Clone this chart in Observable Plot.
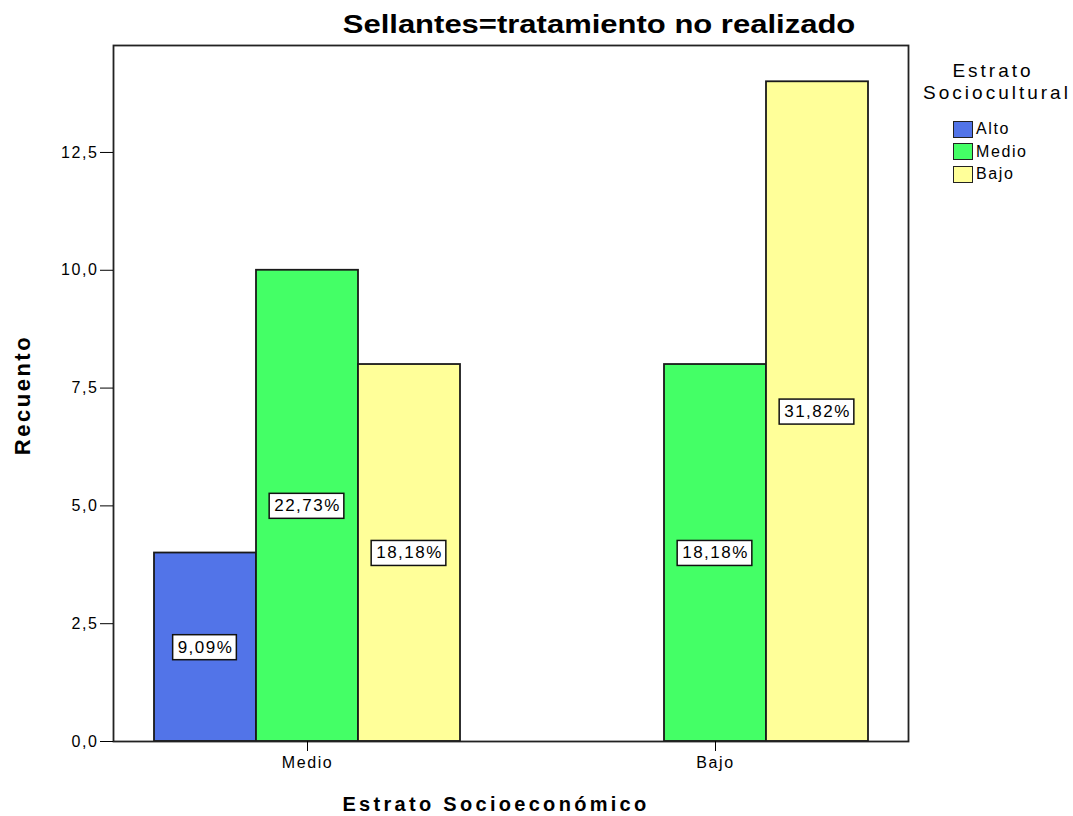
<!DOCTYPE html>
<html>
<head>
<meta charset="utf-8">
<script src="https://cdn.jsdelivr.net/npm/d3@7"></script>
<script src="https://cdn.jsdelivr.net/npm/@observablehq/plot@0.6"></script>
<style>
  html, body { margin: 0; padding: 0; background: white; }
  #wrap { position: relative; width: 1073px; height: 816px; font-family: "Liberation Sans", Arial, sans-serif; overflow: hidden; }
  .abs { position: absolute; color: #000; white-space: nowrap; }
  #title { left: 599px; top: 24px; transform: translate(-50%, -50%) scaleX(1.24); font-weight: bold; font-size: 25px; }
  #ylab { left: 23px; top: 395px; transform: translate(-50%, -50%) rotate(-90deg); font-weight: bold; font-size: 22px; letter-spacing: 2.5px; }
  #xlab { left: 496px; top: 804px; transform: translate(-50%, -50%); font-weight: bold; font-size: 20px; letter-spacing: 3.3px; }
  .legtitle { font-size: 19px; letter-spacing: 3px; transform: translate(-50%, -50%); }
  .legrow { left: 953px; font-size: 16px; letter-spacing: 1.6px; display: flex; align-items: center; height: 18px; }
  .sw { width: 20px; height: 17px; border: 1.5px solid #222; margin-right: 3px; box-sizing: border-box; }
</style>
</head>
<body>
<div id="wrap"></div>
<script>
const groups = ["Medio", "Bajo"];
const estratos = ["Alto", "Medio", "Bajo"];
const barGroup = ["Medio", "Medio", "Medio", "Bajo", "Bajo"];
const barEstrato = ["Alto", "Medio", "Bajo", "Medio", "Bajo"];
const counts = [4, 10, 8, 8, 14];
const pctLabels = ["9,09%", "22,73%", "18,18%", "18,18%", "31,82%"];
const yTicks = [0, 2.5, 5, 7.5, 10, 12.5];
const colors = ["#5274E8", "#44FF66", "#FFFF99"];
const titleText = "Sellantes=tratamiento no realizado";
const yLabel = "Recuento";
const xLabel = "Estrato Socioeconómico";
const legendTitle = ["Estrato", "Sociocultural"];

const key = (g, e) => g + "|" + e;
// band slots: each group has one slot per estrato, with an empty slot between groups
const slots = groups.flatMap((g, i) => [
  ...estratos.map(e => key(g, e)),
  ...(i < groups.length - 1 ? ["gap|" + i] : [])
]);

const data = counts.map((v, i) => ({k: key(barGroup[i], barEstrato[i]), e: barEstrato[i], v, p: pctLabels[i]}));

const chart = Plot.plot({
  width: 1073,
  height: 816,
  marginLeft: 113,
  marginRight: 165,
  marginTop: 45,
  marginBottom: 75,
  style: {fontFamily: "'Liberation Sans', Arial, sans-serif", fontSize: "15px", color: "#000", background: "white", overflow: "visible"},
  x: {domain: slots, paddingInner: 0, paddingOuter: 0.39, label: null},
  y: {domain: [0, 14.77], label: null},
  color: {domain: estratos, range: colors},
  marks: [
    Plot.barY(data, {x: "k", y: "v", fill: "e", stroke: "#1a1a1a", strokeWidth: 1.8}),
    Plot.text(data, {x: "k", y: d => d.v / 2, text: "p", className: "pct", fontSize: 17, fill: "#000"}),
    Plot.frame({stroke: "#222", strokeWidth: 1.8}),
    Plot.axisY({ticks: yTicks, tickFormat: d => d.toFixed(1).replace(".", ","), tickSize: 13, tickPadding: 2, fontSize: 16, label: null, className: "yax"}),
    Plot.axisX({ticks: groups.map(g => key(g, estratos[1])), tickFormat: d => d.split("|")[0], tickSize: 10, tickPadding: 5, fontSize: 16, label: null, className: "xax"})
  ]
});

const wrap = document.getElementById("wrap");
wrap.appendChild(chart);
chart.style.position = "absolute";
chart.style.left = "0px";
chart.style.top = "0px";

chart.querySelectorAll("g.yax text, g.xax text").forEach(t => t.style.letterSpacing = "1.6px");
chart.querySelectorAll("g.pct text").forEach(t => t.style.letterSpacing = "1.5px");

// white boxes behind percentage labels
chart.querySelectorAll("g.pct text").forEach(t => {
  const b = t.getBBox();
  const r = document.createElementNS("http://www.w3.org/2000/svg", "rect");
  r.setAttribute("x", b.x - 5);
  r.setAttribute("y", b.y - 3);
  r.setAttribute("width", b.width + 8);
  r.setAttribute("height", b.height + 6);
  r.setAttribute("fill", "white");
  r.setAttribute("stroke", "#111");
  r.setAttribute("stroke-width", "1.5");
  if (t.getAttribute("transform")) r.setAttribute("transform", t.getAttribute("transform"));
  t.parentNode.insertBefore(r, t);
});

function addDiv(id, cls, text, styles) {
  const d = document.createElement("div");
  if (id) d.id = id;
  d.className = "abs " + (cls || "");
  d.textContent = text;
  Object.assign(d.style, styles || {});
  wrap.appendChild(d);
  return d;
}
addDiv("title", "", titleText);
addDiv("ylab", "", yLabel);
addDiv("xlab", "", xLabel);
addDiv(null, "legtitle", legendTitle[0], {left: "993px", top: "71px"});
addDiv(null, "legtitle", legendTitle[1], {left: "997px", top: "93px"});
estratos.forEach((e, i) => {
  const row = addDiv(null, "legrow", "", {top: (120 + i * 22.5) + "px"});
  const sw = document.createElement("div");
  sw.className = "sw";
  sw.style.background = colors[i];
  row.appendChild(sw);
  row.appendChild(document.createTextNode(e));
});
</script>
</body>
</html>
